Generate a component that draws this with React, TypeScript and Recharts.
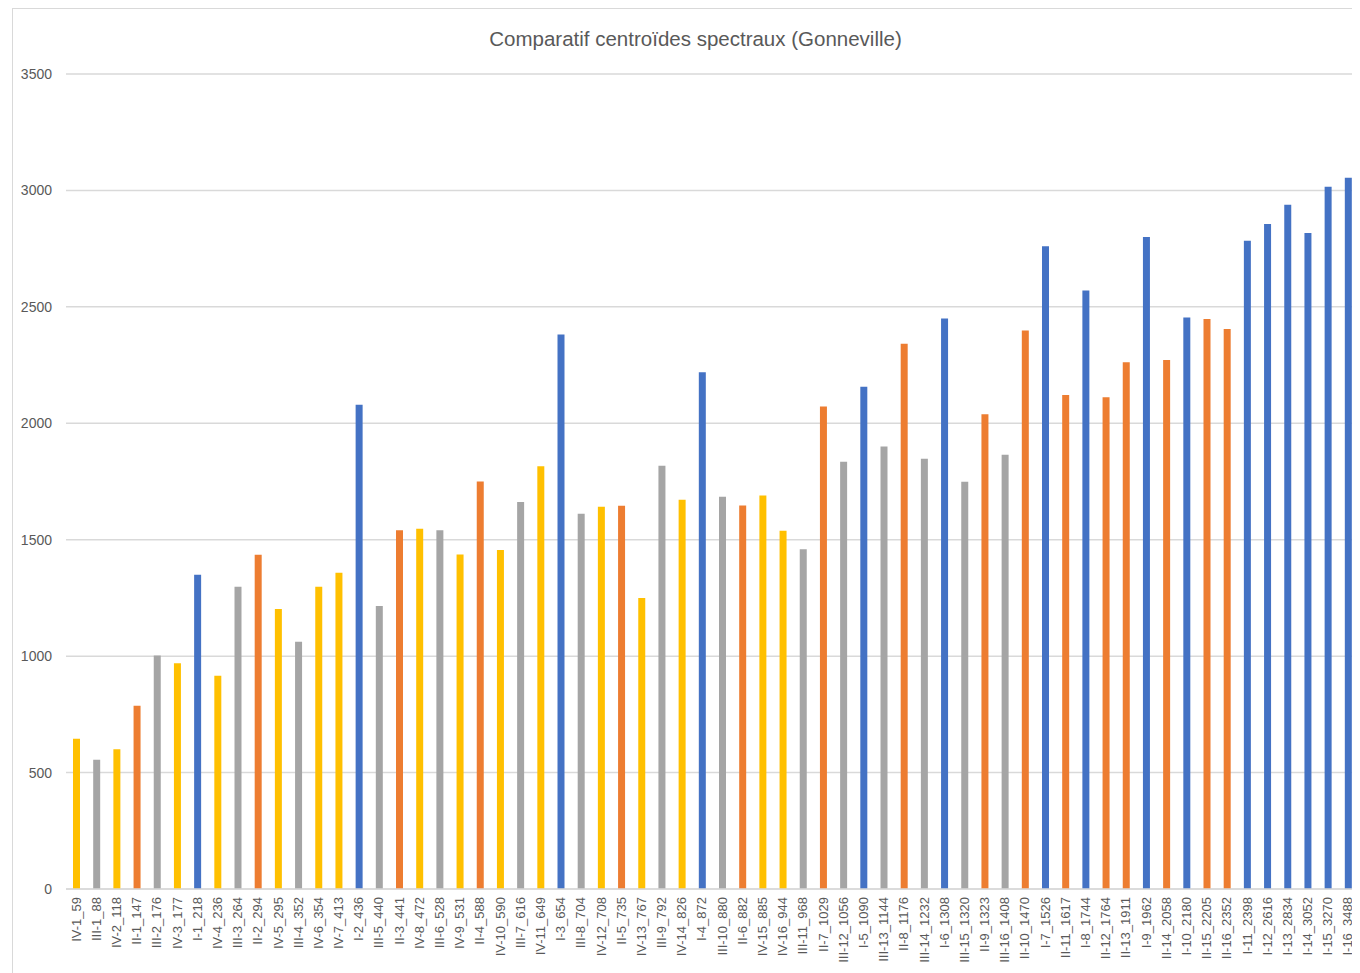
import { BarChart, Bar, XAxis, YAxis, CartesianGrid, Cell } from "recharts";

const labels = [
  "IV-1_59", "III-1_88", "IV-2_118", "II-1_147", "III-2_176", "IV-3_177", "I-1_218", "IV-4_236",
  "III-3_264", "II-2_294", "IV-5_295", "III-4_352", "IV-6_354", "IV-7_413", "I-2_436", "III-5_440",
  "II-3_441", "IV-8_472", "III-6_528", "IV-9_531", "II-4_588", "IV-10_590", "III-7_616", "IV-11_649",
  "I-3_654", "III-8_704", "IV-12_708", "II-5_735", "IV-13_767", "III-9_792", "IV-14_826", "I-4_872",
  "III-10_880", "II-6_882", "IV-15_885", "IV-16_944", "III-11_968", "II-7_1029", "III-12_1056", "I-5_1090",
  "III-13_1144", "II-8_1176", "III-14_1232", "I-6_1308", "III-15_1320", "II-9_1323", "III-16_1408", "II-10_1470",
  "I-7_1526", "II-11_1617", "I-8_1744", "II-12_1764", "II-13_1911", "I-9_1962", "II-14_2058", "I-10_2180",
  "II-15_2205", "II-16_2352", "I-11_2398", "I-12_2616", "I-13_2834", "I-14_3052", "I-15_3270", "I-16_3488",
];

const values = [
  645, 555, 600, 787, 1003, 969, 1350, 916,
  1298, 1435, 1202, 1062, 1298, 1358, 2080, 1215,
  1541, 1547, 1541, 1436, 1750, 1456, 1662, 1815,
  2381, 1612, 1642, 1646, 1250, 1818, 1672, 2219,
  1685, 1647, 1690, 1539, 1459, 2072, 1835, 2157,
  1900, 2342, 1848, 2450, 1749, 2039, 1865, 2398,
  2760, 2122, 2570, 2112, 2262, 2800, 2272, 2454,
  2448, 2405, 2784, 2856, 2939, 2817, 3016, 3054,
];

const yTicks = [0, 500, 1000, 1500, 2000, 2500, 3000, 3500];

// one colour per group (prefix before the first dash)
const groupColors: Record<string, string> = {
  I: "#4472C4",
  II: "#ED7D31",
  III: "#A5A5A5",
  IV: "#FFC000",
};

const data = labels.map((label, i) => ({ label, value: values[i] }));

const FONT = "'Liberation Sans', Arial, sans-serif";
const TEXT = "#595959";
const GRID = "#d9d9d9";

function RotatedTick(props: any) {
  const { x, y, payload } = props;
  return (
    <text
      x={x}
      y={y}
      transform={`rotate(-90, ${x}, ${y})`}
      textAnchor="end"
      dy="0.35em"
      fill={TEXT}
      fontSize={13}
      fontFamily={FONT}
    >
      {payload.value}
    </text>
  );
}

export default function App() {
  return (
    <div style={{ position: "relative", width: 1352, height: 965, overflow: "hidden" }}>
      <style>{"html,body{overflow:hidden}"}</style>
      <div
        style={{
          position: "absolute",
          left: 4,
          top: 0,
          width: 1400,
          height: 1000,
          borderLeft: `1px solid ${GRID}`,
          borderTop: `1px solid ${GRID}`,
        }}
      />
      <div
        style={{
          position: "absolute",
          left: 687.5,
          top: 20,
          transform: "translateX(-50%)",
          whiteSpace: "nowrap",
          fontFamily: FONT,
          fontSize: 20.5,
          lineHeight: "22px",
          color: TEXT,
        }}
      >
        Comparatif centroïdes spectraux (Gonneville)
      </div>
      <div style={{ position: "absolute", left: 0, top: 0 }}>
        <BarChart
          width={1352}
          height={965}
          data={data}
          margin={{ top: 66, right: 2, bottom: 0, left: 0 }}
        >
          <CartesianGrid vertical={false} stroke={GRID} strokeWidth={1.5} />
          <XAxis
            dataKey="label"
            interval={0}
            height={84}
            tickLine={false}
            axisLine={{ stroke: GRID, strokeWidth: 1.5 }}
            tick={<RotatedTick />}
          />
          <YAxis
            width={58}
            domain={[0, 3500]}
            ticks={yTicks}
            axisLine={false}
            tickLine={false}
            tickMargin={8}
            tick={{ fill: TEXT, fontSize: 14, fontFamily: FONT }}
          />
          <Bar dataKey="value" barSize={7} isAnimationActive={false}>
            {data.map((d) => (
              <Cell key={d.label} fill={groupColors[d.label.split("-")[0]]} />
            ))}
          </Bar>
        </BarChart>
      </div>
    </div>
  );
}
